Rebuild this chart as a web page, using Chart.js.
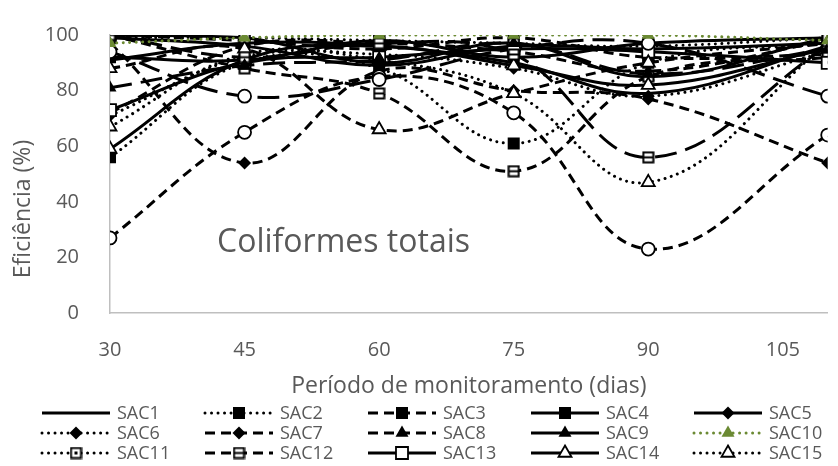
<!DOCTYPE html>
<html>
<head>
<meta charset="utf-8">
<script src="https://cdn.jsdelivr.net/npm/chart.js@4.4.1/dist/chart.umd.min.js"></script>
<style>
  html, body { margin: 0; padding: 0; background: #fff; overflow: hidden; }
  #wrap { width: 838px; height: 466px; }
</style>
</head>
<body>
<div id="wrap"><canvas id="c" width="838" height="466"></canvas></div>
<script>
// Monitoring days (x values) and removal efficiency (%) per system
const days = [30, 45, 60, 75, 90, 110];
const xTickStep = 15;

const SAC1  = [91, 97, 96, 90, 79, 96];
const SAC2  = [56, 90, 88, 61, 90, 97];
const SAC3  = [100, 98, 95, 99, 92, 93];
const SAC4  = [92, 91, 98, 92, 97, 99];
const SAC5  = [99, 96, 89, 96, 95, 97];
const SAC6  = [71, 92, 93, 88, 78, 94];
const SAC7  = [97, 54, 87, 80, 77, 54];
const SAC8  = [72, 96, 97, 94, 87, 98];
const SAC9  = [100, 99, 90, 97, 85, 99];
const SAC10 = [97, 99, 100, 100, 100, 98];
const SAC11 = [99, 99, 98, 97, 96, 99];
const SAC12 = [100, 88, 79, 51, 85, 92];
const SAC13 = [73, 90, 92, 95, 94, 90];
const SAC14 = [59, 91, 96, 89, 82, 95];
const SAC15 = [67, 93, 91, 79, 47, 97];
const SAC16 = [27, 65, 85, 72, 23, 64];
const SAC17 = [94, 78, 84, 95, 97, 78];
const SAC18 = [88, 95, 66, 79, 90, 97];
const SAC19 = [100, 92, 97, 93, 56, 96];
const SAC20 = [81, 89, 91, 97, 86, 95];

const seriesNames = ['SAC1','SAC2','SAC3','SAC4','SAC5','SAC6','SAC7','SAC8','SAC9','SAC10',
                     'SAC11','SAC12','SAC13','SAC14','SAC15','SAC16','SAC17','SAC18','SAC19','SAC20'];
const seriesValues = [SAC1, SAC2, SAC3, SAC4, SAC5, SAC6, SAC7, SAC8, SAC9, SAC10,
                      SAC11, SAC12, SAC13, SAC14, SAC15, SAC16, SAC17, SAC18, SAC19, SAC20];

const FONT = "'Open Sans', Lato, sans-serif";
const TEXT = '#595959';
const AXIS = '#BFBFBF';
const BLACK = '#000000';
const GREEN = '#6B8A33';

// Small custom marker images
function makeMarker(kind) {
  const s = 13, c = document.createElement('canvas');
  c.width = s; c.height = s;
  const g = c.getContext('2d');
  g.fillStyle = '#fff';
  g.fillRect(1.5, 1.5, s - 3, s - 3);
  g.strokeStyle = '#000';
  g.lineWidth = 2;
  g.strokeRect(1.5, 1.5, s - 3, s - 3);
  g.fillStyle = '#000';
  if (kind === 'dot') {
    g.fillRect(5, 5, 3, 3);
  } else if (kind === 'bar') {
    g.fillRect(2, 5.5, s - 4, 2);
  }
  return c;
}
const squareDot = makeMarker('dot');
const squareBar = makeMarker('bar');

const dashes = {
  solid: [],
  dot: [0.01, 6.5],
  dash: [10, 6],
  long: [22, 9]
};

// line style, marker shape, marker fill
const styles = [
  { line: 'solid', marker: false },
  { line: 'dot',   marker: 'rect',     fill: true },
  { line: 'dash',  marker: 'rect',     fill: true },
  { line: 'solid', marker: 'rect',     fill: true },
  { line: 'solid', marker: 'rectRot',  fill: true },
  { line: 'dot',   marker: 'rectRot',  fill: true },
  { line: 'dash',  marker: 'rectRot',  fill: true },
  { line: 'dash',  marker: 'triangle', fill: true },
  { line: 'solid', marker: 'triangle', fill: true },
  { line: 'dot',   marker: 'triangle', fill: true, color: GREEN },
  { line: 'dot',   marker: squareDot },
  { line: 'dash',  marker: squareBar },
  { line: 'solid', marker: 'rect',     fill: false },
  { line: 'solid', marker: 'triangle', fill: false },
  { line: 'dot',   marker: 'triangle', fill: false },
  { line: 'dash',  marker: 'circle',   fill: false },
  { line: 'long',  marker: 'circle',   fill: false },
  { line: 'dash',  marker: 'triangle', fill: false },
  { line: 'long',  marker: squareBar },
  { line: 'long',  marker: 'triangle', fill: true }
];

const radiusFor = {
  rect: 8.5, rectRot: 6.5, triangle: 7.5, circle: 6.5
};

const datasets = seriesNames.map((name, i) => {
  const st = styles[i];
  const col = st.color || BLACK;
  const isImg = st.marker && typeof st.marker !== 'string';
  return {
    label: name,
    data: days.map((d, k) => ({ x: d, y: seriesValues[i][k] })),
    borderColor: col,
    borderWidth: 3,
    borderDash: dashes[st.line],
    borderCapStyle: st.line === 'dot' ? 'round' : 'butt',
    tension: 0.4,
    fill: false,
    pointStyle: st.marker ? st.marker : 'circle',
    pointRadius: st.marker ? (isImg ? 7 : radiusFor[st.marker]) : 0,
    pointHoverRadius: 0,
    pointBackgroundColor: st.fill ? col : '#ffffff',
    pointBorderColor: col,
    pointBorderWidth: st.fill ? 0 : 1.8,
    order: name === 'SAC10' ? -100 : -i
  };
});

// Axis titles, inner caption and the legend
const decorations = {
  id: 'decorations',
  beforeDatasetsDraw(chart) {
    const ctx = chart.ctx;
    ctx.save();
    ctx.fillStyle = TEXT;
    ctx.font = `32px ${FONT}`;
    ctx.textAlign = 'left';
    ctx.textBaseline = 'middle';
    ctx.fillText('Coliformes totais', 217, 243);
    ctx.restore();
  },
  afterDraw(chart) {
    const ctx = chart.ctx;
    const area = chart.chartArea;
    ctx.save();
    ctx.fillStyle = TEXT;
    ctx.textBaseline = 'middle';

    ctx.font = `23px ${FONT}`;
    ctx.textAlign = 'center';
    ctx.fillText('Período de monitoramento (dias)', (area.left + area.right) / 2, 386);

    ctx.save();
    ctx.translate(23, 209);
    ctx.rotate(-Math.PI / 2);
    ctx.fillText('Eficiência (%)', 0, 0);
    ctx.restore();

    // legend: five entries per row, rows that fit on the canvas
    const colX = 42, colW = 163, rowY = 413, rowH = 20, sample = 68;
    chart.data.datasets.forEach((ds, i) => {
      const x0 = colX + (i % 5) * colW;
      const y = rowY + Math.floor(i / 5) * rowH;
      if (y + 8 > chart.height) return;
      ctx.save();
      ctx.strokeStyle = ds.borderColor;
      ctx.lineWidth = ds.borderWidth;
      ctx.lineCap = ds.borderCapStyle;
      ctx.setLineDash(ds.borderDash);
      ctx.beginPath();
      ctx.moveTo(x0, y);
      ctx.lineTo(x0 + sample, y);
      ctx.stroke();
      ctx.setLineDash([]);
      if (ds.pointRadius > 0) {
        ctx.fillStyle = ds.pointBackgroundColor;
        ctx.strokeStyle = ds.pointBorderColor;
        ctx.lineWidth = ds.pointBorderWidth;
        Chart.helpers.drawPoint(ctx, {
          pointStyle: ds.pointStyle,
          radius: ds.pointRadius,
          rotation: 0,
          borderWidth: ds.pointBorderWidth
        }, x0 + sample / 2, y);
      }
      ctx.restore();
      ctx.fillStyle = TEXT;
      ctx.font = `18px ${FONT}`;
      ctx.textAlign = 'left';
      ctx.fillText(ds.label, x0 + sample + 7, y + 1);
    });
    ctx.restore();
  }
};

new Chart(document.getElementById('c'), {
  type: 'line',
  data: { datasets },
  options: {
    responsive: false,
    animation: false,
    devicePixelRatio: 1,
    layout: { padding: { top: 22, left: 0, right: 0, bottom: 0 } },
    plugins: { legend: { display: false }, tooltip: { enabled: false } },
    scales: {
      x: {
        type: 'linear',
        min: 30,
        max: 110,
        grid: { display: false },
        border: { display: true, color: AXIS, width: 1.5 },
        ticks: {
          stepSize: xTickStep,
          includeBounds: false,
          padding: 17,
          color: TEXT,
          font: { family: FONT, size: 20 }
        },
        afterFit(scale) { scale.height = 153; }
      },
      y: {
        min: 0,
        max: 100,
        grid: { display: false },
        border: { display: true, color: AXIS, width: 1.5 },
        ticks: {
          stepSize: 20,
          padding: 23,
          color: TEXT,
          font: { family: FONT, size: 20 }
        },
        afterFit(scale) { scale.width = 110; }
      }
    }
  },
  plugins: [decorations]
});
</script>
</body>
</html>
